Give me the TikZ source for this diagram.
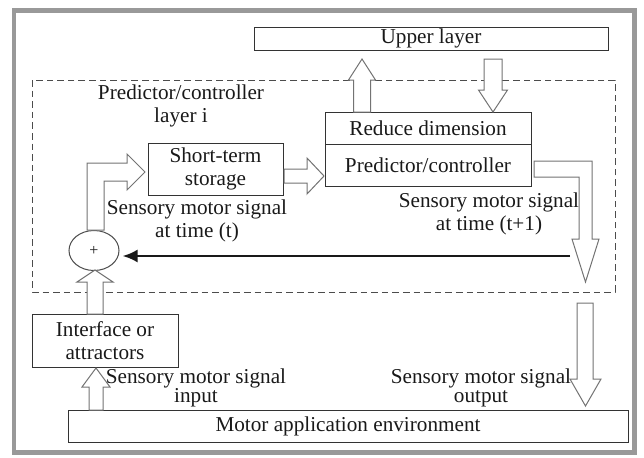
\documentclass[tikz,border=0pt]{standalone}
\usepackage{fontspec}
\setmainfont{Liberation Serif}
\usepackage{tikz}
\usetikzlibrary{arrows.meta,shapes.geometric}

\begin{document}
\begin{tikzpicture}[>=Latex,x=0.5pt,y=-0.5pt,
  every node/.style={font=\fontsize{10.6}{11.8}\selectfont,text=black!90,inner sep=0pt,align=center},
  box/.style={draw=black!80,line width=0.5pt},
  tight/.style={font=\fontsize{10.6}{9.6}\selectfont},
  hollow/.style={draw=black!55,line width=0.5pt,fill=white,line join=miter}]
\useasboundingbox (0,0) rectangle (644,457);
\draw[black!40,line width=2.2pt] (14,10.5) rectangle (634.5,452.5);
\draw[black!70,line width=0.5pt,dash pattern=on 3.3pt off 2pt] (32,80) rectangle (615,292);
% boxes
\node[box,minimum width=177pt,minimum height=11.5pt] (upper) at (431,38.5) {Upper layer};
\node[box,minimum width=103pt,minimum height=16pt] (red) at (428,128) {Reduce dimension};
\node[box,minimum width=103pt,minimum height=21pt] (pred) at (428,165) {Predictor/controller};
\node[box,minimum width=67.5pt,minimum height=26pt] (stor) at (215.5,169) {Short-term\\storage};
\node[box,minimum width=73pt,minimum height=26.5pt] (intf) at (105,340.5) {Interface or\\attractors};
\node[box,minimum width=280pt,minimum height=16pt] (env) at (348,426) {Motor application environment};
\node[draw=black!70,line width=0.5pt,ellipse,minimum width=25pt,minimum height=20pt,
      font=\fontsize{8}{9}\selectfont] (sum) at (94,250.5) {+};
% labels
\node (layer) at (181,106) {Predictor/controller\\layer i};
\node (sigt) at (197,221) {Sensory motor signal\\at time (t)};
\node (sigt1) at (489,214) {Sensory motor signal\\at time (t+1)};
\node[tight] (sigin) at (196,388) {Sensory motor signal\\input};
\node[tight] (sigout) at (481,388) {Sensory motor signal\\output};
% hollow arrows
\draw[hollow] (353.5,112) -- (353.5,80) -- (348.5,80) -- (362,59) -- (375.5,80) -- (370.5,80) -- (370.5,112) -- cycle;
\draw[hollow] (484,59) -- (502,59) -- (502,90) -- (507.5,90) -- (493,112) -- (478.5,90) -- (484,90) -- cycle;
\draw[hollow] (284,169) -- (307,169) -- (307,158) -- (324,176) -- (307,194) -- (307,183) -- (284,183) -- cycle;
\draw[hollow] (87,230) -- (87,163) -- (127,163) -- (127,154) -- (145,172) -- (127,190) -- (127,181) -- (104,181) -- (104,230) -- cycle;
\draw[hollow] (87,314) -- (87,282) -- (77,282) -- (95,270) -- (113,282) -- (103,282) -- (103,314) -- cycle;
\draw[hollow] (89,410) -- (89,387) -- (82,387) -- (96,368) -- (110,387) -- (103,387) -- (103,410) -- cycle;
\draw[hollow] (577,303) -- (593,303) -- (593,379) -- (601,379) -- (585.5,406) -- (570,379) -- (577,379) -- cycle;
\draw[hollow] (534,161) -- (592,161) -- (592,239) -- (599,239) -- (585.5,282) -- (572,239) -- (579,239) -- (579,177) -- (534,177) -- cycle;
% feedback
\coordinate (fb) at (570,256);
\draw[->,line width=1.3pt,black!90,shorten >=1.5pt,>={Latex[length=7.5pt,width=6.5pt]}] (fb) -- (fb -| sum.east);
\end{tikzpicture}
\end{document}
